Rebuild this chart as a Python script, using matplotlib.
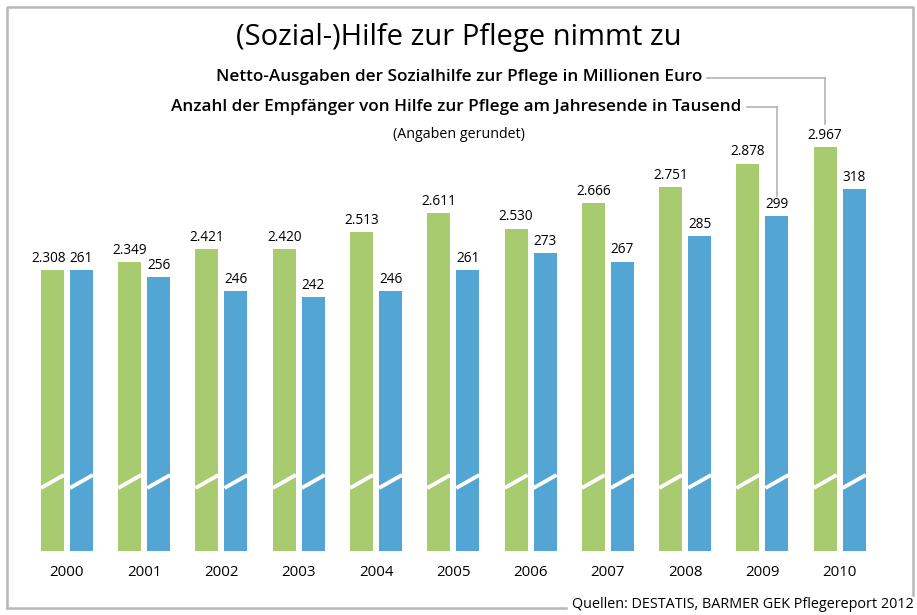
import numpy as np
import matplotlib.pyplot as plt
from matplotlib.lines import Line2D
from matplotlib.transforms import blended_transform_factory

years = ['2000', '2001', '2002', '2003', '2004', '2005', '2006', '2007', '2008', '2009', '2010']
ausgaben = [2308, 2349, 2421, 2420, 2513, 2611, 2530, 2666, 2751, 2878, 2967]
empfaenger = [261, 256, 246, 242, 246, 261, 273, 267, 285, 299, 318]
ausgaben_labels = ['2.308', '2.349', '2.421', '2.420', '2.513', '2.611', '2.530', '2.666', '2.751', '2.878', '2.967']

GREEN = '#a9cb70'
BLUE = '#53a5d4'
GRAY = '#b4b4b4'

plt.rcParams['font.family'] = ['Open Sans', 'DejaVu Sans']

W, H = 917, 615
fig = plt.figure(figsize=(W / 100, H / 100), dpi=100)


def fx(px):
    return px / W


def fy(py):
    return 1 - py / H


# axes spans y 100..551 px, x such that group pitch is ~77.3 px
ax = fig.add_axes([fx(28.3), fy(551), fx(850), 451 / H])
ax2 = ax.twinx()

# broken axis: each series starts at its own (cut) base value
g_lo, g_hi = 802, 802 + 451 / 0.1866
b_lo, b_hi = 63.3, 63.3 + 451 / 1.421
ax.set_ylim(g_lo, g_hi)
ax2.set_ylim(b_lo, b_hi)
ax.set_xlim(-0.5, 10.5)

x = np.arange(len(years))
w = 0.2975
off = 0.1876
g = np.array(ausgaben)
b = np.array(empfaenger)
ax.bar(x - off, g - g_lo, bottom=g_lo, width=w, color=GREEN)
ax2.bar(x + off, b - b_lo, bottom=b_lo, width=w, color=BLUE)

for a in (ax, ax2):
    for s in a.spines.values():
        s.set_visible(False)
    a.set_yticks([])

ax.set_xticks(x)
ax.set_xticklabels(years, fontsize=10.8)
ax.tick_params(axis='x', length=0, pad=10)

for i, (xi, v, lab) in enumerate(zip(x, g, ausgaben_labels)):
    dx = -3 if i == 0 else 0
    ax.annotate(lab, (xi - off, v), xytext=(dx, 3), textcoords='offset points',
                ha='center', va='bottom', fontsize=9.8)
for xi, v in zip(x, b):
    ax2.annotate(str(v), (xi + off, v), xytext=(0, 3), textcoords='offset points',
                 ha='center', va='bottom', fontsize=9.8)

# break marks
tb = blended_transform_factory(ax.transData, ax.transAxes)
for xi in x:
    for c in (xi - off, xi + off):
        ax2.plot([c - w / 2, c + w / 2], [63 / 451, 76 / 451], color='white', lw=2.8,
                 transform=tb, solid_capstyle='butt', zorder=5)

# titles
fig.text(0.5, fy(38), '(Sozial-)Hilfe zur Pflege nimmt zu', ha='center', va='center',
         fontsize=21, fontweight='medium')
fig.text(fx(702), fy(77), 'Netto-Ausgaben der Sozialhilfe zur Pflege in Millionen Euro',
         ha='right', va='center', fontsize=12.3, fontweight='semibold')
fig.text(fx(741), fy(107), 'Anzahl der Empfänger von Hilfe zur Pflege am Jahresende in Tausend',
         ha='right', va='center', fontsize=12.3, fontweight='semibold')
fig.text(0.5, fy(135), '(Angaben gerundet)', ha='center', va='center', fontsize=10.3)

# leader lines
tl = blended_transform_factory(ax.transData, fig.transFigure)
ax.add_line(Line2D([10 - off] * 2, [fy(77.7), fy(124)], color=GRAY, lw=1.2, transform=tl, clip_on=False))
ax.add_line(Line2D([9 + off] * 2, [fy(107), fy(196)], color=GRAY, lw=1.2, transform=tl, clip_on=False))
pxg = ax.transData.transform((10 - off, 0))[0]
pxb = ax.transData.transform((9 + off, 0))[0]
fig.add_artist(Line2D([fx(707), pxg / W], [fy(77.7)] * 2, color=GRAY, lw=1.2))
fig.add_artist(Line2D([fx(747), pxb / W], [fy(107)] * 2, color=GRAY, lw=1.2))

# frame
fc = '#b8b8b8'
fig.add_artist(Line2D([fx(7), fx(7), fx(912.5), fx(912.5)], [fy(608), fy(7), fy(7), fy(595)],
                      color=fc, lw=1.8))
fig.add_artist(Line2D([fx(7), fx(566)], [fy(608), fy(608)], color=fc, lw=1.8))
fig.text(fx(914), fy(604), 'Quellen: DESTATIS, BARMER GEK Pflegereport 2012', ha='right', va='center',
         fontsize=10.4)

fig.savefig('out.png', dpi=100)
